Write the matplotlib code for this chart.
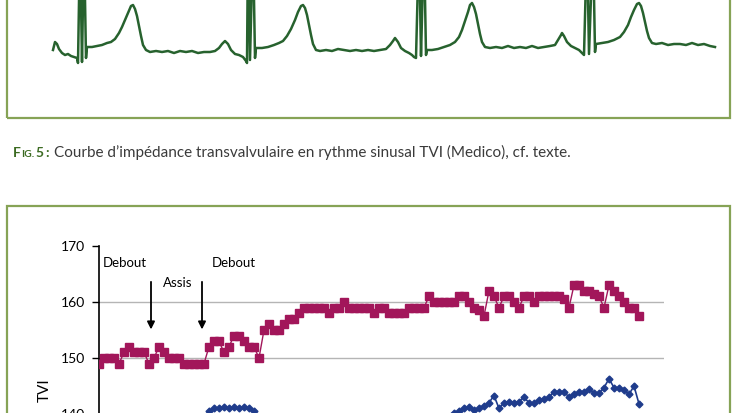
import matplotlib.pyplot as plt
from matplotlib.patches import Rectangle

plt.rcParams['font.family'] = ['Lato', 'DejaVu Sans']

W, H = 735, 413

# ECG sinusal (temps en ms, amplitude en µV)
ecg_t = [0, 10, 20, 30, 45, 60, 75, 90, 105, 120, 125, 135, 145, 155, 165, 170,
         195, 220, 245, 270, 290, 310, 330, 345, 360, 375, 390, 400, 410, 420, 430, 440, 450, 465, 485,
         515, 545, 575, 605, 635, 665, 695, 725, 755, 785, 810,
         830, 845, 860, 875, 890, 910, 930, 950, 965,
         970, 975, 985, 1000, 1010, 1015,
         1045, 1075, 1105, 1130, 1150, 1170, 1190, 1210, 1225, 1240, 1250, 1260, 1270, 1280, 1290, 1300, 1315, 1335,
         1365, 1395, 1425, 1455, 1485, 1515, 1545, 1575, 1605, 1635, 1665,
         1685, 1700, 1710, 1725, 1740, 1760, 1780, 1795, 1805,
         1815, 1830, 1840, 1855, 1865, 1870,
         1895, 1925, 1955, 1985, 2010, 2030, 2045, 2060, 2075, 2085, 2095, 2105, 2115, 2125, 2135, 2145, 2160,
         2185, 2215, 2245, 2275, 2305, 2335, 2365, 2395, 2425, 2455, 2485, 2510,
         2525, 2540, 2545, 2555, 2570, 2590, 2610, 2630, 2645,
         2655, 2670, 2680, 2700, 2710, 2715,
         2745, 2775, 2805, 2835, 2855, 2875, 2890, 2905, 2920, 2930, 2940, 2950, 2960, 2970, 2980, 2995, 3015,
         3045, 3075, 3105, 3135, 3165, 3195, 3225, 3255, 3285, 3310]
ecg_uv = [50, 250, 200, 75, -25, -75, -50, -100, -125, -150, -275, 2800, -250, 2800, -150, 125,
          125, 150, 175, 225, 250, 325, 475, 625, 800, 975, 1150, 1175, 1075, 900, 650, 400, 175, 50, 0,
          25, 0, 25, -25, 25, 0, 25, -25, 0, 0, 25,
          100, 200, 275, 200, 50, -50, -75, -125, -225,
          -275, 2800, -200, 2800, -150, 100,
          100, 125, 175, 225, 275, 400, 575, 800, 1000, 1150, 1175, 1100, 925, 675, 425, 200, 50, 25,
          50, 25, 75, 50, 25, 50, 25, 50, 25, 50, 75,
          175, 275, 350, 250, 100, 25, -25, -75, -125,
          -150, 2800, -100, 2800, -75, 50,
          50, 75, 125, 175, 250, 375, 550, 775, 1000, 1175, 1225, 1125, 950, 700, 450, 250, 125,
          100, 125, 100, 150, 100, 125, 100, 150, 100, 125, 150, 175,
          300, 425, 475, 400, 250, 150, 100, 50, -25,
          -75, 2800, -50, 2800, 0, 200,
          225, 250, 300, 375, 500, 675, 875, 1050, 1200, 1225, 1150, 975, 750, 525, 350, 225, 200,
          225, 175, 200, 200, 175, 225, 175, 200, 150, 125]

# TVI : courbe du haut (carrés) et courbe du bas (losanges)
tvi_haut = [149, 150, 150, 150, 149, 151, 152, 151, 151, 151,
            149, 150, 152, 151, 150, 150, 150, 149, 149, 149,
            149, 149, 152, 153, 153, 151, 152, 154, 154, 153,
            152, 152, 150, 155, 156, 155, 155, 156, 157, 157,
            158, 159, 159, 159, 159, 159, 158, 159, 159, 160,
            159, 159, 159, 159, 159, 158, 159, 159, 158, 158,
            158, 158, 159, 159, 159, 159, 161, 160, 160, 160,
            160, 160, 161, 161, 160, 159, 158.5, 157.5, 162, 161,
            159, 161, 161, 160, 159, 161, 161, 160, 161, 161,
            161, 161, 161, 160.5, 159, 163, 163, 162, 162, 161.5,
            161, 159, 163, 162, 161, 160, 159, 159, 157.5]
tvi_bas = [138, 138.5, 138, 137.5, 138, 138.5, 139, 138.5, 138, 138.5,
           138, 139, 138.5, 138.5, 139, 138.5, 139, 138.5, 139, 139,
           139, 139.5, 140.5, 141, 141, 141.2, 141, 141.2, 141, 141.2,
           141, 140.5, 139.5, 138.5, 138, 138, 137.5, 138, 137.5, 138,
           138.5, 138, 138, 138.5, 138, 138.5, 138.5, 138, 138.5, 139,
           138.5, 138.5, 139, 138.5, 139, 139, 138.5, 139, 139, 139,
           139, 139.2, 139, 139.2, 139.2, 139, 139.2, 139.2, 139, 139.2,
           139.5, 140.2, 140.5, 141, 141.2, 140.8, 141, 141.5, 142, 143.3,
           141, 142, 142.2, 142, 142.2, 143, 142, 142, 142.5, 142.7,
           143, 144, 144, 144, 143, 143.5, 144, 144, 144.5, 143.7,
           143.7, 144.7, 146.3, 144.7, 144.7, 144.3, 143.5, 145, 141.8]
mesures = list(range(len(tvi_haut)))

positions = ['Debout', 'Assis', 'Debout']
changements = [10.4, 20.6]

vert_cadre = '#86a356'
vert_titre = '#3c6b22'

fig = plt.figure(figsize=(W / 100, H / 100), dpi=100)


def px_box(x0, y0, x1, y1):
    return [x0 / W, 1 - y1 / H, (x1 - x0) / W, (y1 - y0) / H]


# cadres verts des deux figures
fig.add_artist(Rectangle((7 / W, 1 - 118 / H), 723 / W, 140 / H, transform=fig.transFigure,
                         fill=False, ec=vert_cadre, lw=1.6))
fig.add_artist(Rectangle((7 / W, -20 / H), 723 / W, (413 - 206 + 20) / H, transform=fig.transFigure,
                         fill=False, ec=vert_cadre, lw=1.6))

# trace ECG
ax_ecg = fig.add_axes(px_box(8, 0, 729, 117))
ax_ecg.plot(ecg_t, ecg_uv, color='#27622e', lw=1.8)
ax_ecg.set_xlim(-225, 3380)
ax_ecg.set_ylim(-1625, 1300)
ax_ecg.axis('off')

# légende de la figure 5 (petites capitales pour « Fig. »)
renderer = fig.canvas.get_renderer()
x = 13
for s, size, gap in [('F', 10, 0), ('IG.', 7.5, 1.5), ('5', 10, 1.5), (':', 10, 0)]:
    t = fig.text(x / W, 1 - 157 / H, s, fontsize=size, fontweight='bold',
                 color=vert_titre, va='baseline')
    x += t.get_window_extent(renderer).width + gap
fig.text(max(52, x + 5) / W, 1 - 157 / H,
         'Courbe d’impédance transvalvulaire en rythme sinusal TVI (Medico), cf. texte.',
         fontsize=11, color='#3a3a3a', va='baseline')

# graphique TVI
ax = fig.add_axes([99 / W, 1 - 246 / H - 70 * 5.6 / H, 565 / W, 70 * 5.6 / H])
for v in range(100, 170, 10):
    ax.axhline(v, color='#b5b5b5', lw=1, zorder=0)
ax.plot(mesures, tvi_bas, color='#1f3c8c', lw=1.2, marker='D', ms=3.5, zorder=2)
ax.plot(mesures, tvi_haut, color='#a2165a', lw=1, marker='s', ms=5.5, zorder=3)
ax.set_xlim(0, 113)
ax.set_ylim(100, 170)
ax.set_yticks(range(100, 171, 10))
ax.set_xticks([])
ax.tick_params(axis='y', length=5, width=1, pad=5, labelsize=10)
for side in ['top', 'right', 'bottom']:
    ax.spines[side].set_visible(False)
ax.spines['left'].set_linewidth(1.2)

ax.text(0.8, 167, positions[0], fontsize=9.5, va='center')
ax.text(12.8, 163.4, positions[1], fontsize=9.5, va='center')
ax.text(22.6, 167, positions[2], fontsize=9.5, va='center')
for xc in changements:
    ax.annotate('', xy=(xc, 155.1), xytext=(xc, 163.6),
                arrowprops=dict(arrowstyle='-|>', color='black', lw=1.3,
                                mutation_scale=11, shrinkA=0, shrinkB=0))

fig.text(45 / W, 1 - 390 / H, 'TVI', rotation=90, fontsize=11, ha='center', va='center')

fig.savefig('out.png', dpi=100)
